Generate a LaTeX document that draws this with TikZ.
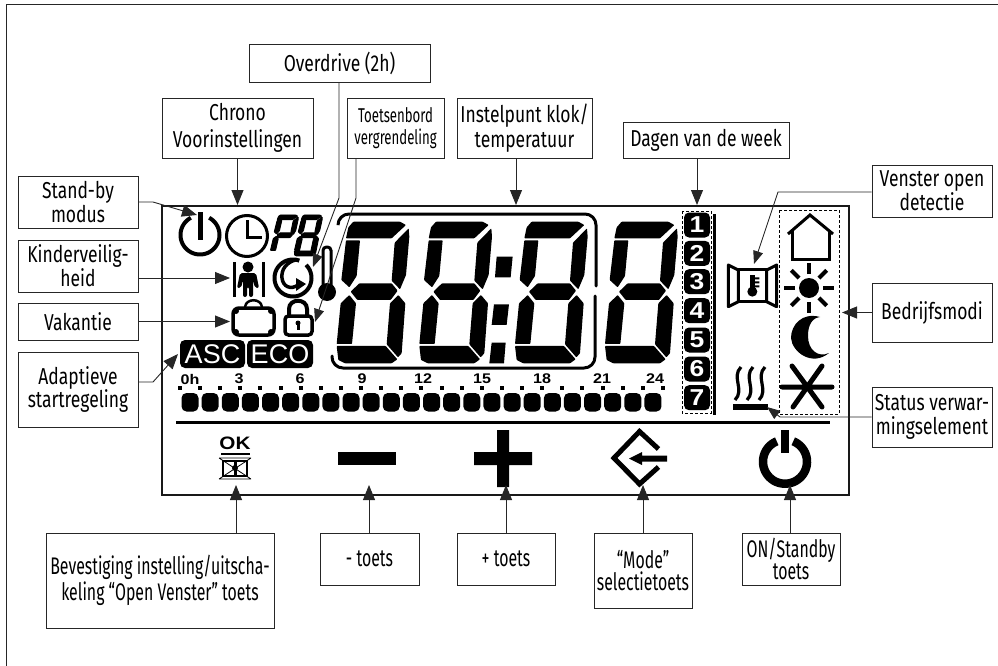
\documentclass[tikz,border=0pt]{standalone}
\usepackage{fontspec}
\setmainfont{Fira Sans}
\newfontfamily\lblA[FakeStretch=0.76]{Fira Sans}
\newfontfamily\lblB[FakeStretch=0.66]{Fira Sans}
\newfontfamily\arialf{Liberation Sans}
\newfontfamily\arialb[FakeStretch=1.15]{Liberation Sans Bold}
\usetikzlibrary{arrows.meta}
\tikzset{
 lbox/.style={draw=black!85,line width=0.9pt,align=center,inner sep=0pt,font={\lblA\fontsize{23}{27}\selectfont}},
 ld/.style={font={\lblA\fontsize{23}{#1}\selectfont}},
 ldn/.style={font={\lblB\fontsize{24}{#1}\selectfont}},
 conn/.style={draw=black!85,line width=0.9pt,-{Triangle[length=15pt,width=12pt]}},
 connb/.style={draw=black!85,line width=0.9pt,-{Triangle[length=13pt,width=10pt]}},
 hourlbl/.style={font={\arialb\fontsize{14}{14}\selectfont},inner sep=0pt},
 daybox/.style={fill=black,rounded corners=5pt,minimum width=26pt,minimum height=25pt,inner sep=0pt,text=white,font={\arialb\fontsize{23}{23}\selectfont}},
 tagbox/.style={fill=black,rounded corners=5pt,inner sep=0pt,text=white,font={\arialf\fontsize{27}{27}\selectfont}},
 dashbox/.style={draw=black,line width=0.8pt,densely dashed},
}
\def\segA{(78,115)--(85,82)--(100,65)--(240,65)--(258,75)--(215,115)--cycle}
\def\segF{(78,121)--(120,121)--(110,228)--(88,262)--(64,240)--cycle}
\def\segB{(266,85)--(268,110)--(258,225)--(240,268)--(215,242)--(224,128)--cycle}
\def\segG{(118,250)--(215,250)--(233,272)--(212,300)--(112,300)--(92,275)--cycle}
\def\segE{(88,285)--(108,310)--(96,432)--(50,432)--(62,310)--cycle}
\def\segC{(235,285)--(256,310)--(245,460)--(234,472)--(200,433)--(210,310)--cycle}
\def\segD{(50,438)--(197,438)--(232,478)--(215,490)--(75,490)--(55,480)--cycle}
\begin{document}
\begin{tikzpicture}[x=1pt,y=-1pt]
\useasboundingbox (0,0) rectangle (998,666);
% frame
\draw[draw=black!85,line width=1pt] (998,5) -- (6,5) -- (6,666);
\draw[draw=black!90,line width=1.2pt] (162,206) rectangle (849,495);

% label boxes
\node[lbox,minimum width=181pt,minimum height=38pt] (overdrive) at (339.5,63) {Overdrive (2h)};
\node[lbox,ld=27,minimum width=151pt,minimum height=60pt] (chrono) at (237.5,128) {Chrono\\Voorinstellingen};
\node[lbox,minimum width=97pt,minimum height=60pt,font={\lblB\fontsize{20}{22}\selectfont}] (lockkeys) at (395.5,128) {Toetsenbord\\vergrendeling};
\node[lbox,ld=25,minimum width=135pt,minimum height=60pt] (setpoint) at (524.5,128) {Instelpunt klok/\\temperatuur};
\node[lbox,minimum width=166pt,minimum height=36pt] (days) at (706,140) {Dagen van de week};
\node[lbox,ld=21,minimum width=120pt,minimum height=52pt] (standby) at (78,202) {Stand-by\\modus};
\node[lbox,ld=21,minimum width=120pt,minimum height=52pt] (childlock) at (78,266) {Kinderveilig-\\heid};
\node[lbox,minimum width=120pt,minimum height=37pt] (holiday) at (78,321.5) {Vakantie};
\node[lbox,ld=21,minimum width=120pt,minimum height=75pt] (adaptive) at (78,389.5) {Adaptieve\\startregeling};
\node[lbox,ld=22,minimum width=120pt,minimum height=52pt] (window) at (932,191) {Venster open\\detectie};
\node[lbox,minimum width=120pt,minimum height=59pt] (modes) at (932,312.5) {Bedrijfsmodi};
\node[lbox,ld=24,minimum width=120pt,minimum height=60pt] (heater) at (932,417) {Status verwar-\\mingselement};
\node[lbox,ldn=26,minimum width=228pt,minimum height=95pt] (okkey) at (160,580.5) {Bevestiging instelling/uitscha-\\keling “Open Venster” toets};
\node[lbox,ldn=26,minimum width=99pt,minimum height=52pt] (minuskey) at (369.5,559) {- toets};
\node[lbox,ldn=26,minimum width=98pt,minimum height=52pt] (pluskey) at (506,559) {+ toets};
\node[lbox,ldn=22,minimum width=98pt,minimum height=75pt] (modekey) at (643,570.5) {“Mode”\\selectietoets};
\node[lbox,ldn=22,minimum width=98pt,minimum height=52pt] (onkey) at (791,559) {ON/Standby\\toets};

% connector ends
\coordinate (tStandby) at (197,215);
\coordinate (bStandby) at (153,202);
\coordinate (tChild) at (230,278);
\coordinate (tHoliday) at (230,321.5);
\coordinate (tAdaptive) at (178,354);
\coordinate (bAdaptive) at (153,382);
\coordinate (tChrono) at (237.5,205);
\coordinate (bOver) at (339,198);
\coordinate (tOver) at (313,267);
\coordinate (bLock) at (356,198);
\coordinate (tLock) at (315,322);
\coordinate (tSet) at (516,205);
\coordinate (tDays) at (697,205);
\coordinate (bWindow) at (778,192);
\coordinate (tWindow) at (754,264);
\coordinate (tModes) at (842,312.5);
\coordinate (bHeat) at (780,417);
\coordinate (tHeat) at (767,407);
\coordinate (tOk) at (236,485);
\coordinate (tMinus) at (369,485);
\coordinate (tPlus) at (506,485);
\coordinate (tMode) at (643,485);
\coordinate (tOn) at (790,485);

% LCD: bracket around the first digits
\draw[line width=3pt,rounded corners=11pt,line cap=round] (338,224) -- (338,214) -- (596,214) -- (596,286);
\draw[line width=3pt,rounded corners=11pt,line cap=round] (595,296) -- (595,368) -- (332,368) -- (332,356);
% LCD: big digits
\foreach \d in {0,248,535,805}{
 \fill[shift={(320+\d/3,200)},x=0.3333pt,y=-0.3333pt,rounded corners=0.7pt]
   \segA \segF \segB \segG \segE \segC \segD;
}
\fill[shift={(320,200)},x=0.3333pt,y=-0.3333pt]
  (530,170)--(578,170)--(572,232)--(525,232)--cycle
  (522,313)--(567,313)--(560,375)--(515,375)--cycle
  (515,428)--(557,428)--(552,490)--(508,490)--cycle;
% P8
\filldraw[shift={(270,215)},yshift=6.3pt,xslant=0.12,x=0.11pt,y=-0.0965pt,rounded corners=0.5pt,line width=0.9pt]
   \segA \segF \segB \segG \segE;
\filldraw[shift={(294,215)},yshift=6.3pt,xslant=0.12,x=0.11pt,y=-0.0965pt,rounded corners=0.5pt,line width=0.9pt]
   \segA \segF \segB \segG \segE \segC \segD;

% stand-by icon
\draw[line width=4pt] plot[smooth,domain=62:-242,samples=60] ({200+19.5*cos(\x)},{235-19.5*sin(\x)});
\draw[line width=5pt] (200,212) -- (200,240);
% clock
\draw[line width=3pt] (247,236) circle[radius=20.5];
\draw[line width=3pt] (247,220) -- (247,237) -- (262,237);
% child
\draw[line width=3pt] (234,262) -- (234,297) (263,262) -- (263,297);
\fill (248,267) circle[radius=5.5];
\fill[rounded corners=2pt] (240,273) -- (256,273) -- (259,288) -- (255,288) -- (253,280) -- (253,297) -- (249,297) -- (249,287) -- (247,287) -- (247,297) -- (243,297) -- (243,280) -- (241,288) -- (237,288) -- cycle;
% overdrive spiral
\draw[line width=4pt] plot[smooth,domain=70:405,samples=60] ({293+18.5*cos(\x)},{278-18.5*sin(\x)});
\draw[line width=3.5pt] (297,259.5) .. controls (286,262) and (281,270) .. (282,278) .. controls (283,287) and (291,290) .. (298,285);
\fill (296,278) -- (306,284) -- (296,291) -- cycle;
% thermometer
\draw[line width=3pt,rounded corners=3.5pt] (323,285) -- (323,247) -- (331,247) -- (331,285);
\fill (327,292) circle[radius=9];
% suitcase
\draw[line width=3.5pt,rounded corners=6pt] (233,308) rectangle (274,335);
\draw[line width=2.5pt] (245,307) .. controls (246,298) and (261,298) .. (262,307);
\foreach \a/\b in {236/311,271/311,236/332,271/332} {\fill (\a,\b) circle[radius=3];}
% padlock
\draw[line width=4pt] (289,316) -- (289,309) .. controls (289,298) and (307,298) .. (307,309) -- (307,316);
\draw[line width=3.5pt,rounded corners=3.5pt] (285,316) rectangle (312,335);
\fill (298,323) circle[radius=2.5];
\fill (296.5,323) rectangle (299.5,330);
% ASC ECO
\node[tagbox,minimum width=65pt,minimum height=28pt] (asc) at (212.5,354) {ASC};
\node[tagbox,minimum width=66pt,minimum height=28pt] (eco) at (280,354) {ECO};
% hours
\foreach \n/\t/\x in {h0/0h/190,h3/3/239,h6/6/300,h9/9/362,h12/12/423,h15/15/482,h18/18/542,h21/21/602,h24/24/655}{
  \node[hourlbl] (\n) at (\x,379) {\t};
}
\foreach \i in {0,...,24}{
  \fill ({180+\i*20.12-2},386) rectangle ({180+\i*20.12+2},390);
}
\foreach \i in {0,...,23}{
  \fill[rounded corners=5pt] ({190+\i*20.13-8.5},393) rectangle ({190+\i*20.13+8.5},411.5);
}
\draw[line width=3pt] (176,422) -- (830,422);
% days
\draw[dashbox] (682,211) rectangle (711,413);
\foreach \n/\yy in {1/225,2/253.3,3/281.7,4/310.7,5/340,6/369,7/397.7}{
  \node[daybox] (d\n) at (697,\yy) {\n};
}
\draw[line width=3pt] (714,214) -- (714,415);
% mode dashed box
\draw[dashbox] (779,210) rectangle (839,414);
% house
\draw[line width=3pt] (788,234) -- (810,215) -- (833,234);
\draw[line width=3pt] (792,231) -- (792,259) -- (829,259) -- (829,231);
% sun
\fill (809,288) circle[radius=10];
\foreach \a in {0,45,...,315}{
  \draw[line width=4pt] ({809+14*cos(\a)},{288+14*sin(\a)}) -- ({809+25*cos(\a)},{288+25*sin(\a)});
}
% moon
\fill (820,317) .. controls (802,312) and (791,325) .. (791,338) .. controls (792,352) and (812,367) .. (829,353) .. controls (818,358) and (808,350) .. (808,336) .. controls (808,325) and (812,318) .. (820,317) -- cycle;
% snow
\draw[line width=5pt,line cap=round] (782,387) -- (832,387) (792,366) -- (822,407) (822,366) -- (793,407);
% window
\begin{scope}[shift={(670,190)},x=0.3333pt,y=-0.3333pt]
 \draw[line width=3pt,line join=round] (175,225) -- (205,240) -- (205,335) -- (175,350) -- cycle;
 \draw[line width=3pt,line join=round] (320,225) -- (290,240) -- (290,335) -- (320,350) -- cycle;
 \draw[line width=3pt] (205,240) -- (290,240) (205,335) -- (290,335);
 \fill (247,305) circle[radius=5pt];
 \fill (240,255) rectangle (254,305);
 \fill (254,262) rectangle (268,268) (254,274) rectangle (268,280) (254,286) rectangle (268,292);
\end{scope}
% heat
\foreach \x in {738,750,762}{
  \draw[line width=3.2pt] (\x+3,367) .. controls (\x-7,377) and (\x+7,390) .. (\x-3,400);
}
\fill (733,404) rectangle (768,410);
% OK key
\node[font={\arialb\fontsize{18}{18}\selectfont},inner sep=0pt] (oklabel) at (235,443) {OK};
\draw[line width=2pt] (221,453.5) -- (250,453.5);
\draw[line width=1.2pt] (223,461) rectangle (247,476);
\draw[line width=0.8pt] (219,458) -- (251,479) (251,458) -- (219,479) (219,458) -- (251,458) (219,479) -- (251,479);
\fill (235,468) circle[radius=3];
\fill (233.5,461) rectangle (236.5,476);
% minus plus
\fill (338,452) rectangle (396,465);
\fill (474,452) rectangle (532,465) (497,430) rectangle (509,487);
% mode key
\draw[line width=5pt] (658.5,449) -- (639.5,431.5) -- (614,458) -- (639.5,484) -- (658.5,467);
\fill (629,458.5) -- (642,452) -- (642,455.5) -- (667,455.5) -- (667,461.5) -- (642,461.5) -- (642,465) -- cycle;
% on key
\draw[line width=8.5pt] plot[smooth,domain=68:-248,samples=60] ({785+22*cos(\x)},{461.7-22*sin(\x)});
\fill (781,430) rectangle (789,452.5);

% connectors
\draw[conn] (standby.east) -- (bStandby) -- (tStandby);
\draw[conn] (tChild -| childlock.east) -- (tChild);
\draw[conn] (holiday.east) -- (tHoliday);
\draw[conn] (bAdaptive -| adaptive.east) -- (bAdaptive) -- (tAdaptive);
\draw[conn] (chrono.south) -- (tChrono);
\draw[connb] (bOver |- overdrive.south) -- (bOver) -- (tOver);
\draw[connb] (bLock |- lockkeys.south) -- (bLock) -- (tLock);
\draw[conn] (tSet |- setpoint.south) -- (tSet);
\draw[conn] (tDays |- days.south) -- (tDays);
\draw[connb] (bWindow -| window.west) -- (bWindow) -- (tWindow);
\draw[conn] (modes.west) -- (tModes);
\draw[connb] (heater.west) -- (bHeat) -- (tHeat);
\draw[conn] (tOk |- okkey.north) -- (tOk);
\draw[conn] (tMinus |- minuskey.north) -- (tMinus);
\draw[conn] (tPlus |- pluskey.north) -- (tPlus);
\draw[conn] (tMode |- modekey.north) -- (tMode);
\draw[conn] (tOn |- onkey.north) -- (tOn);
\end{tikzpicture}
\end{document}
